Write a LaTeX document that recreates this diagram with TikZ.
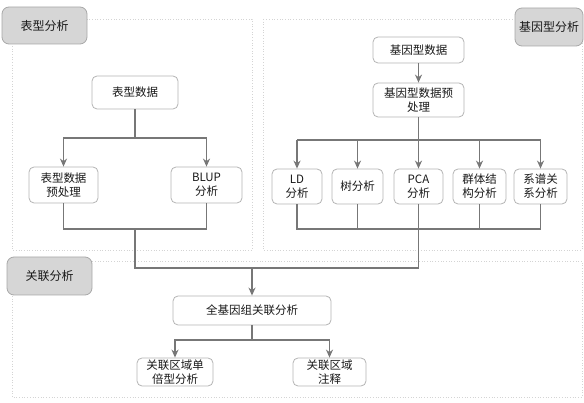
\documentclass[tikz,border=0pt]{standalone}
\usepackage{fontspec}
\newfontfamily\cjk{Noto Sans CJK SC}
\usetikzlibrary{arrows.meta}
\definecolor{nodeborder}{HTML}{B4B4B4}
\definecolor{linecol}{HTML}{777777}
\definecolor{labelfill}{HTML}{D6D6D6}
\definecolor{labelborder}{HTML}{A8A8A8}
\definecolor{groupcol}{HTML}{D4D4D4}
\tikzset{
  stepbox/.style={draw=nodeborder, line width=0.8pt, rounded corners=5pt, fill=white,
    font=\cjk\fontsize{11.5}{14}\selectfont, align=center, inner sep=0pt, text=black!90},
  grouplabel/.style={draw=labelborder, line width=0.8pt, rounded corners=7pt, fill=labelfill,
    font=\cjk\fontsize{12}{14}\selectfont, inner sep=0pt, text=black!90},
  groupframe/.style={draw=groupcol, line width=0.7pt, dotted},
  conn/.style={draw=linecol, line width=1.7pt},
  arr/.style={conn, -{Stealth[length=8pt,width=7pt]}},
}
\begin{document}
\begin{tikzpicture}[x=1pt,y=-1pt]
\useasboundingbox (0,0) rectangle (584,403);
% group frames
\draw[groupframe] (12,19) rectangle (252,250);
\draw[groupframe] (263,19) rectangle (582,250);
\draw[groupframe] (12,261) rectangle (582,397);
% group labels
\node[grouplabel, minimum width=85pt, minimum height=37pt] (lph) at (44.5,25.5) {表型分析};
\node[grouplabel, minimum width=68pt, minimum height=38pt] (lge) at (549,27) {基因型分析};
\node[grouplabel, minimum width=85pt, minimum height=38pt] (las) at (49.5,276) {关联分析};
% phenotype nodes
\node[stepbox, minimum width=86pt, minimum height=33pt] (ph) at (135,92.5) {表型数据};
\node[stepbox, minimum width=69pt, minimum height=36pt] (phpre) at (63.5,185) {表型数据\\预处理};
\node[stepbox, minimum width=71pt, minimum height=36pt] (blup) at (206.5,185) {BLUP\\分析};
% genotype nodes
\node[stepbox, minimum width=91pt, minimum height=26pt] (ge) at (418.5,50) {基因型数据};
\node[stepbox, minimum width=91pt, minimum height=34pt] (gepre) at (418.5,100) {基因型数据预\\处理};
\node[stepbox, minimum width=50pt, minimum height=35pt] (ld) at (297,186.5) {LD\\分析};
\node[stepbox, minimum width=51pt, minimum height=35pt] (tree) at (357.5,186.5) {树分析};
\node[stepbox, minimum width=49pt, minimum height=35pt] (pca) at (418.5,186.5) {PCA\\分析};
\node[stepbox, minimum width=53pt, minimum height=35pt] (pop) at (479.5,186.5) {群体结\\构分析};
\node[stepbox, minimum width=53pt, minimum height=35pt] (ped) at (540.5,186.5) {系谱关\\系分析};
% association nodes
\node[stepbox, minimum width=158pt, minimum height=29pt] (gwas) at (252,310.5) {全基因组关联分析};
\node[stepbox, minimum width=76pt, minimum height=28pt] (hap) at (175,372) {关联区域单\\倍型分析};
\node[stepbox, minimum width=73pt, minimum height=28pt] (ann) at (329.5,372) {关联区域\\注释};
% junction coordinates
\coordinate (pj) at (135,138);
\coordinate (pb) at (135,229);
\coordinate (gj) at (418.5,140);
\coordinate (gb) at (418.5,229);
\coordinate (m1) at (135,268);
\coordinate (m2) at (418.5,268);
\coordinate (mm) at (252,268);
\coordinate (aj) at (252,340);
% phenotype connectors
\draw[conn] (ph.south) -- (pj);
\draw[arr] (pj) -| (phpre.north);
\draw[arr] (pj) -| (blup.north);
\draw[conn] (phpre.south) |- (pb) -| (blup.south);
% genotype connectors
\draw[arr] (ge.south) -- (gepre.north);
\draw[conn] (gepre.south) -- (gj);
\draw[conn] (gj -| ld) -- (gj -| ped);
\foreach \n in {ld,tree,pca,pop,ped}{
  \draw[arr] (gj -| \n) -- (\n.north);
}
\draw[conn] (ld.south) |- (gb) -| (ped.south);
\draw[conn] (tree.south) -- (tree.south |- gb);
\draw[conn] (pop.south) -- (pop.south |- gb);
% merge
\draw[conn] (pb) -- (m1) -- (m2);
\draw[conn] (pca.south) -- (m2);
\draw[arr] (mm) -- (gwas.north);
% association connectors
\draw[conn] (gwas.south) -- (aj);
\draw[arr] (aj) -| (hap.north);
\draw[arr] (aj) -| (ann.north);
\end{tikzpicture}
\end{document}
